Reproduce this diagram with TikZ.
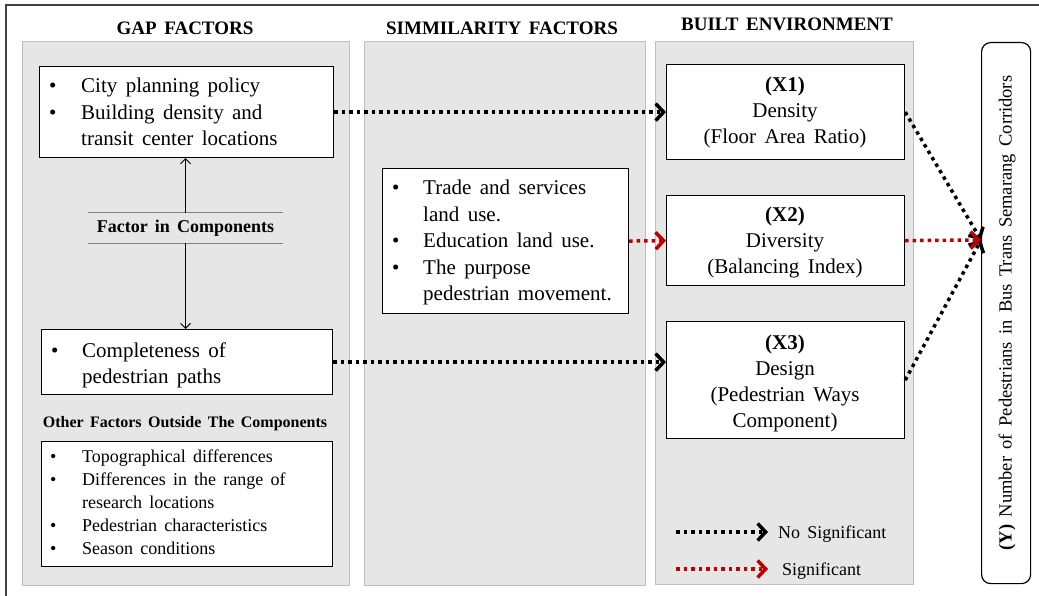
\documentclass[tikz,border=0pt]{standalone}
\usepackage{fontspec}
\setmainfont[WordSpace=1.6]{Liberation Serif}
\usetikzlibrary{arrows.meta}
\definecolor{panelgray}{HTML}{E6E6E6}
\definecolor{panelline}{HTML}{BFBFBF}
\definecolor{sigred}{HTML}{C00000}
\definecolor{framegray}{HTML}{404040}
\begin{document}
\begin{tikzpicture}[x=1pt,y=-1pt,
  panel/.style={fill=panelgray, draw=panelline, line width=0.8pt, anchor=north west, inner sep=0pt},
  box/.style={draw=black, fill=white, line width=1.2pt, anchor=north west, inner sep=0pt},
  listtext/.style={anchor=base west, inner sep=0pt, font=\fontsize{21}{26.5}\selectfont},
  smalllist/.style={anchor=base west, inner sep=0pt, font=\fontsize{18}{23.2}\selectfont},
  ctext/.style={anchor=base, inner sep=0pt, font=\fontsize{21}{26}\selectfont},
  head/.style={anchor=base, inner sep=0pt, font=\fontsize{19}{21}\selectfont\bfseries},
  nsig/.style={draw=black, line width=3.5pt, dash pattern=on 3.5pt off 4pt, -{Straight Barb[length=8pt,width=17pt]}},
  sig/.style={nsig, draw=sigred},
  thinarrow/.style={line width=0.9pt, -{Straight Barb[length=5pt,width=10pt]}},
  rulegray/.style={draw=gray, line width=0.9pt}
]
\useasboundingbox (0,0) rectangle (1039,596);
\fill[white] (0,0) rectangle (1039,596);
\draw[framegray, line width=2pt] (6,610) -- (6,5) -- (1050,5);

% panels
\node[panel, minimum width=327pt, minimum height=544pt] (p1) at (22,41) {};
\node[panel, minimum width=281pt, minimum height=544pt] (p2) at (364,41) {};
\node[panel, minimum width=258pt, minimum height=543pt] (p3) at (655,41) {};

% headers
\node[head] (h1) at (185,35) {GAP FACTORS};
\node[head] (h2) at (502,35) {SIMMILARITY FACTORS};
\node[head] (h3) at (787,31) {BUILT ENVIRONMENT};

% gap factor boxes
\node[box, minimum width=294pt, minimum height=91pt] (b1) at (39,66) {};
\node[listtext] (t1) at (49,93) {\begin{tabular}[t]{@{}p{32pt}@{}l@{}}•&City planning policy\\ •&Building density and\\ &transit center locations\end{tabular}};

\node[box, minimum width=291pt, minimum height=65pt] (b2) at (41,329) {};
\node[listtext] (t2) at (51,357) {\begin{tabular}[t]{@{}p{31pt}@{}l@{}}•&Completeness of\\ &pedestrian paths\end{tabular}};

\node[inner sep=0pt, minimum width=195pt, minimum height=30pt, font=\fontsize{18}{20}\selectfont\bfseries] (fic) at (185.5,228) {Factor in Components};
\draw[rulegray] (fic.north west) -- (fic.north east);
\draw[rulegray] (fic.south west) -- (fic.south east);
\draw[thinarrow] (fic.north) -- (fic.north |- b1.south);
\draw[thinarrow] (fic.south) -- (fic.south |- b2.north);

\node[anchor=base, inner sep=0pt, font=\fontsize{16}{18}\selectfont\bfseries] (ofo) at (185,427) {Other Factors Outside The Components};

\node[box, minimum width=291pt, minimum height=125pt] (b3) at (41,441) {};
\node[smalllist] (t3) at (50,462) {\begin{tabular}[t]{@{}p{32pt}@{}l@{}}•&Topographical differences\\ •&Differences in the range of\\ &research locations\\ •&Pedestrian characteristics\\ •&Season conditions\end{tabular}};

% similarity box
\node[box, minimum width=246pt, minimum height=145pt] (sim) at (382,168) {};
\node[listtext] (ts) at (392,195) {\begin{tabular}[t]{@{}p{31pt}@{}l@{}}•&Trade and services\\ &land use.\\ •&Education land use.\\ •&The purpose\\ &pedestrian movement.\end{tabular}};

% built environment boxes
\node[box, minimum width=238pt, minimum height=95pt] (x1) at (666,64) {};
\node[ctext] (tx1) at (785,92) {\begin{tabular}[t]{@{}c@{}}\textbf{(X1)}\\ Density\\ (Floor Area Ratio)\end{tabular}};
\node[box, minimum width=238pt, minimum height=90pt] (x2) at (666,195) {};
\node[ctext] (tx2) at (785,222) {\begin{tabular}[t]{@{}c@{}}\textbf{(X2)}\\ Diversity\\ (Balancing Index)\end{tabular}};
\node[box, minimum width=238pt, minimum height=117pt] (x3) at (666,321) {};
\node[ctext] (tx3) at (785,349) {\begin{tabular}[t]{@{}c@{}}\textbf{(X3)}\\ Design\\ (Pedestrian Ways\\ Component)\end{tabular}};

% Y box
\node[draw=black, fill=white, line width=1.2pt, rounded corners=9pt, anchor=north west, inner sep=0pt, minimum width=49pt, minimum height=541pt] (yb) at (981,42) {};
\node[rotate=90, inner sep=0pt, font=\fontsize{18.5}{21}\selectfont] (ty) at (1007,313) {\textbf{(Y)} Number of Pedestrians in Bus Trans Semarang Corridors};
\coordinate (yin) at (981,240);

% connectors
\draw[nsig] (b1.east) -- (x1.west);
\draw[sig] (sim.east) -- (x2.west);
\draw[nsig] (b2.east) -- (b2.east -| x3.west);
\draw[nsig] (x1.east) -- (yin);
\draw[nsig] (x3.east) -- (yin);
\draw[sig] (x2.east) -- (yin);

% legend
\coordinate (l1a) at (676,532);
\coordinate (l1b) at (768,532);
\coordinate (l2a) at (676,569);
\coordinate (l2b) at (768,569);
\draw[nsig] (l1a) -- (l1b);
\draw[sig] (l2a) -- (l2b);
\node[anchor=base west, inner sep=0pt, font=\fontsize{18}{20}\selectfont] (lg1) at (778,538) {No Significant};
\node[anchor=base west, inner sep=0pt, font=\fontsize{18}{20}\selectfont] (lg2) at (782,575) {Significant};
\end{tikzpicture}
\end{document}
